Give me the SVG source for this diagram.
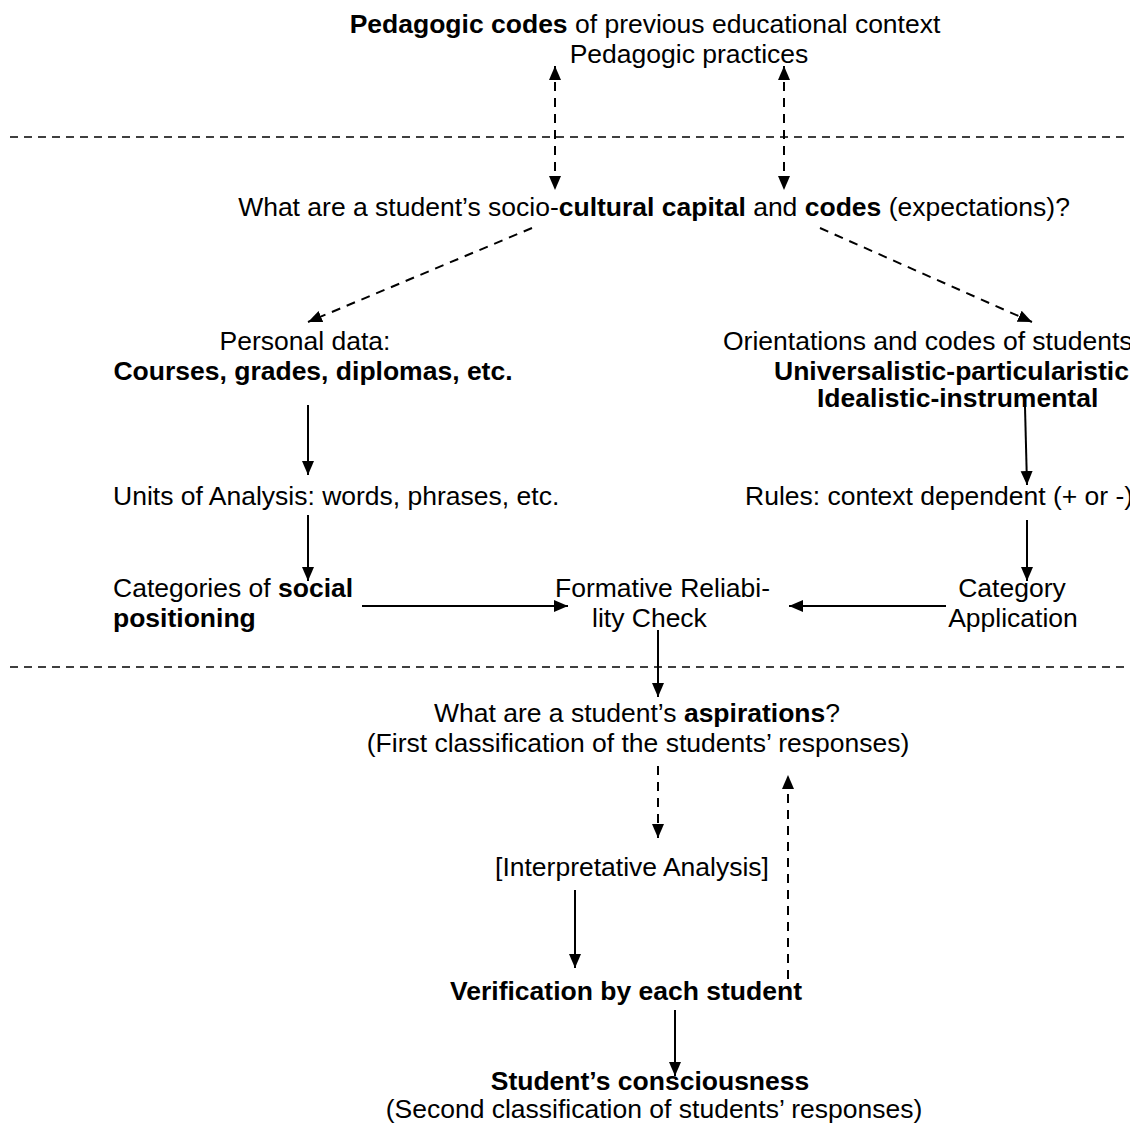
<svg xmlns="http://www.w3.org/2000/svg" width="1130" height="1133" viewBox="0 0 1130 1133">
  <defs>
    <marker id="tip" viewBox="0 0 14 14" refX="14" refY="7" markerWidth="14" markerHeight="14" markerUnits="userSpaceOnUse" orient="auto-start-reverse">
      <path d="M0,1 L14,7 L0,13 z" fill="#000"/>
    </marker>
  </defs>
  <style>
    text { font-family: "Liberation Sans", Arial, sans-serif; font-size: 26.5px; fill: #000; }
    .b { font-weight: bold; }
    .mid { text-anchor: middle; }
    .sep { stroke: #000; stroke-width: 1.3; stroke-dasharray: 8 6; fill: none; }
    .solid { stroke: #000; stroke-width: 2; fill: none; marker-end: url(#tip); }
    .dash { stroke: #000; stroke-width: 2; stroke-dasharray: 9 7; fill: none; marker-end: url(#tip); }
    .dash2 { stroke: #000; stroke-width: 2; stroke-dasharray: 9 7; fill: none; marker-start: url(#tip); marker-end: url(#tip); }
  </style>
  <rect width="1130" height="1133" fill="#fff"/>

  <!-- section separators -->
  <line class="sep" x1="10" y1="137" x2="1130" y2="137"/>
  <line class="sep" x1="10" y1="667" x2="1130" y2="667"/>

  <g id="connectors">
    <line class="dash2" x1="555" y1="66" x2="555" y2="190"/>
    <line class="dash2" x1="784" y1="66" x2="784" y2="190"/>
    <line class="dash" x1="532" y1="228" x2="308" y2="322"/>
    <line class="dash" x1="820" y1="228" x2="1032" y2="322"/>
    <line class="solid" x1="308" y1="405" x2="308" y2="475"/>
    <line class="solid" x1="1025" y1="407" x2="1027" y2="485"/>
    <line class="solid" x1="308" y1="515" x2="308" y2="581"/>
    <line class="solid" x1="1027" y1="520" x2="1027" y2="581"/>
    <line class="solid" x1="362" y1="606" x2="568" y2="606"/>
    <line class="solid" x1="946" y1="606" x2="789" y2="606"/>
    <line class="solid" x1="658" y1="630" x2="658" y2="697"/>
    <line class="dash" x1="658" y1="766" x2="658" y2="838"/>
    <line class="dash" x1="788" y1="979" x2="788" y2="775"/>
    <line class="solid" x1="575" y1="890" x2="575" y2="968"/>
    <line class="solid" x1="675" y1="1010" x2="675" y2="1076"/>
  </g>

  <g id="pedagogic-codes">
    <text class="mid" x="645" y="33"><tspan class="b">Pedagogic codes</tspan> of previous educational context</text>
    <text class="mid" x="689" y="63">Pedagogic practices</text>
  </g>

  <g id="capital-question">
    <text class="mid" x="654" y="216">What are a student’s socio-<tspan class="b">cultural capital</tspan> and <tspan class="b">codes</tspan> (expectations)?</text>
  </g>

  <g id="personal-data">
    <text class="mid" x="305" y="350">Personal data:</text>
    <text class="mid b" x="313" y="380">Courses, grades, diplomas, etc.</text>
  </g>

  <g id="orientations">
    <text x="723" y="350">Orientations and codes of students:</text>
    <text x="774" y="380" class="b">Universalistic-particularistic</text>
    <text x="817" y="407" class="b">Idealistic-instrumental</text>
  </g>

  <g id="units">
    <text x="113" y="505">Units of Analysis: words, phrases, etc.</text>
  </g>

  <g id="rules">
    <text x="745" y="505">Rules: context dependent (+ or -)</text>
  </g>

  <g id="categories">
    <text x="113" y="597">Categories of <tspan class="b">social</tspan></text>
    <text x="113" y="627" class="b">positioning</text>
  </g>

  <g id="reliability-check">
    <text x="555" y="597">Formative Reliabi-</text>
    <text x="592" y="627">lity Check</text>
  </g>

  <g id="category-application">
    <text class="mid" x="1012" y="597">Category</text>
    <text class="mid" x="1013" y="627">Application</text>
  </g>

  <g id="aspirations">
    <text class="mid" x="637" y="722">What are a student’s <tspan class="b">aspirations</tspan>?</text>
    <text class="mid" x="638" y="752">(First classification of the students’ responses)</text>
  </g>

  <g id="interpretative-analysis">
    <text class="mid" x="632" y="876">[Interpretative Analysis]</text>
  </g>

  <g id="verification">
    <text class="mid b" x="626" y="1000">Verification by each student</text>
  </g>

  <g id="consciousness">
    <text class="mid b" x="650" y="1090">Student’s consciousness</text>
    <text class="mid" x="654" y="1118">(Second classification of students’ responses)</text>
  </g>
</svg>
